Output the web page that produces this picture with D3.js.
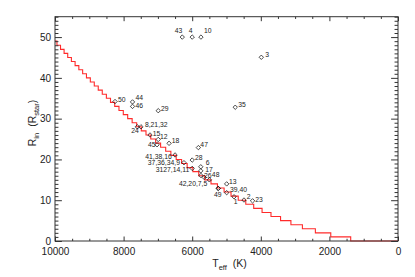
<!DOCTYPE html>
<html><head><meta charset="utf-8">
<script src="https://cdn.jsdelivr.net/npm/d3@7"></script>
<style>
html,body{margin:0;padding:0;background:#fff;}
svg{display:block;}
text{font-family:"Liberation Sans",Arial,Helvetica,sans-serif;fill:#222;}
</style></head>
<body>
<script>
// ---- data ----
const starIds = ["43","4","10","3","50","44","46","29","35","24","8,21,32","15","12","45","18","47",
  "41,38,16","28","37,36,34,9","3127,14,11","6","17","26","","48","42,20,7,5","49","13","39,40","1","2","23"];
const starTeff = [6290,6000,5745,3985,8250,7740,7740,6990,4745,7600,7495,7230,6990,7025,6675,5820,
  6500,6000,6240,6000,5750,5750,5745,5650,5500,5240,5240,4995,4995,4780,4490,4240];
const starRin = [50.0,50.0,50.0,45.05,34.2,34.1,33.0,31.95,32.8,28.0,28.0,26.0,24.9,23.6,23.95,22.9,
  21.1,19.85,19.2,17.8,18.2,17.2,16.05,15.6,15.0,12.9,12.9,14.0,11.85,10.85,10.05,9.85];
// model step curve: temperature where each integer level begins (descending T) and its level
const stepTeff = [10000,9943,9839,9735,9629,9522,9414,9305,9194,9083,8970,8855,8739,8622,8502,8382,
  8259,8135,8009,7881,7751,7619,7484,7347,7208,7066,6921,6773,6622,6467,6309,6147,5980,5809,5633,
  5452,5264,5070,4868,4658,4438,4207,3963,3703,3424,3122,2787,2409,1960,1379,0];
const stepLevel = [49,48,47,46,45,44,43,42,41,40,39,38,37,36,35,34,33,32,31,30,29,28,27,26,25,24,
  23,22,21,20,19,18,17,16,15,14,13,12,11,10,9,8,7,6,5,4,3,2,1,0,0];
const xMajorTicks = [10000,8000,6000,4000,2000,0];
const yMajorTicks = [0,10,20,30,40,50];

// ---- layout (label placement: dx, baseline dy, anchor) ----
const labelLayout = [[0,-4,"end"],[-1.5,-4,"middle"],[3,-4,"start"],[4,0,"start"],[3,0,"start"],
  [3,-2,"start"],[3,1.5,"start"],[2.7,0.3,"start"],[3,-0.6,"start"],[-2.3,6,"middle"],[4,0.6,"start"],
  [2.7,0.7,"start"],[1.7,0,"start"],[-1.5,2,"end"],[2.7,0,"start"],[2,-0.4,"start"],[-3.3,4,"end"],
  [2.7,0,"start"],[-4,2.3,"end"],[-3,4,"end"],[5,-1.4,"start"],[4.5,1.0,"start"],[3,2.8,"start"],
  [0,0,"start"],[2.5,-2.4,"start"],[-11,-2.3,"end"],[-0.5,8.4,"middle"],[2.3,0,"start"],
  [3.3,-0.4,"start"],[1.5,7.6,"middle"],[2.7,-1,"start"],[2.7,0.7,"start"]];

const W = 415, H = 277;
const L = 55, R = 398, T = 16.7, B = 241;
const svg = d3.select("body").append("svg").attr("width", W).attr("height", H);
const x = d3.scaleLinear().domain([10000, 0]).range([L, R]);
const y = d3.scaleLinear().domain([0, 55]).range([B, T]);
const axisColor = "#333";

// red step curve
const stepPts = stepTeff.map((t, i) => [t, stepLevel[i]]);
svg.append("path").datum(stepPts)
  .attr("d", d3.line().x(d => x(d[0])).y(d => y(d[1])).curve(d3.curveStepAfter))
  .attr("fill", "none").attr("stroke", "#ff2b2b").attr("stroke-width", 1.1);

// axes
function styleAxis(g) {
  g.select(".domain").remove();
  g.selectAll("line").attr("stroke", axisColor).attr("stroke-width", 1);
  g.selectAll("text").attr("font-size", 10).attr("fill", "#222")
    .attr("font-family", '"Liberation Sans", Arial, sans-serif');
}
const xMinor = d3.range(0, 10001, 500).filter(v => !xMajorTicks.includes(v));
const yMinor = d3.range(0, 56, 1).filter(v => !yMajorTicks.includes(v));
const xTL = 4.5, yTL = 6.9;

svg.append("g").attr("transform", `translate(0,${B})`)
  .call(d3.axisBottom(x).tickValues(xMajorTicks).tickFormat(d3.format("d")).tickSizeInner(-xTL).tickSizeOuter(0).tickPadding(7))
  .call(styleAxis);
svg.append("g").attr("transform", `translate(0,${B})`)
  .call(d3.axisBottom(x).tickValues(xMinor).tickFormat("").tickSizeInner(-xTL/2).tickSizeOuter(0))
  .call(styleAxis);
svg.append("g").attr("transform", `translate(0,${T})`)
  .call(d3.axisTop(x).tickValues(xMajorTicks).tickFormat("").tickSizeInner(-xTL).tickSizeOuter(0))
  .call(styleAxis);
svg.append("g").attr("transform", `translate(0,${T})`)
  .call(d3.axisTop(x).tickValues(xMinor).tickFormat("").tickSizeInner(-xTL/2).tickSizeOuter(0))
  .call(styleAxis);
svg.append("g").attr("transform", `translate(${L},0)`)
  .call(d3.axisLeft(y).tickValues(yMajorTicks).tickSizeInner(-yTL).tickSizeOuter(0).tickPadding(4))
  .call(styleAxis);
svg.append("g").attr("transform", `translate(${L},0)`)
  .call(d3.axisLeft(y).tickValues(yMinor).tickFormat("").tickSizeInner(-yTL/2).tickSizeOuter(0))
  .call(styleAxis);
svg.append("g").attr("transform", `translate(${R},0)`)
  .call(d3.axisRight(y).tickValues(yMajorTicks).tickFormat("").tickSizeInner(-yTL).tickSizeOuter(0))
  .call(styleAxis);
svg.append("g").attr("transform", `translate(${R},0)`)
  .call(d3.axisRight(y).tickValues(yMinor).tickFormat("").tickSizeInner(-yTL/2).tickSizeOuter(0))
  .call(styleAxis);

// frame
svg.append("rect").attr("x", L).attr("y", T).attr("width", R - L).attr("height", B - T)
  .attr("fill", "none").attr("stroke", axisColor).attr("stroke-width", 1);

// points
const s = 2.2;
const pts = svg.append("g").selectAll("g").data(starIds.map((id, i) => ({id, t: starTeff[i], r: starRin[i], lay: labelLayout[i]})))
  .join("g").attr("transform", d => `translate(${x(d.t)},${y(d.r)})`);
pts.append("path").attr("d", `M0,${-s}L${s},0L0,${s}L${-s},0Z`)
  .attr("fill", "none").attr("stroke", "#111").attr("stroke-width", 0.75);
pts.append("text").attr("x", d => d.lay[0]).attr("y", d => d.lay[1])
  .attr("text-anchor", d => d.lay[2]).attr("font-size", 6.8).text(d => d.id);

// x title
const xt = svg.append("text").attr("x", 229.5).attr("y", 267).attr("text-anchor", "middle").attr("font-size", 10.5);
xt.append("tspan").text("T");
xt.append("tspan").attr("font-size", 7.5).attr("dy", 3).text("eff");
xt.append("tspan").attr("dy", -3).attr("dx", 3).text(" (K)");

// y title
const yt = svg.append("text").attr("transform", "translate(35.5,123) rotate(-90)")
  .attr("text-anchor", "middle").attr("font-size", 10.5);
yt.append("tspan").text("R");
yt.append("tspan").attr("font-size", 7.5).attr("dy", 3).text("in");
yt.append("tspan").attr("dy", -3).attr("dx", 3).text(" (R");
yt.append("tspan").attr("font-size", 7.5).attr("dy", 3).text("star");
yt.append("tspan").attr("dy", -3).text(")");
</script>
</body></html>
